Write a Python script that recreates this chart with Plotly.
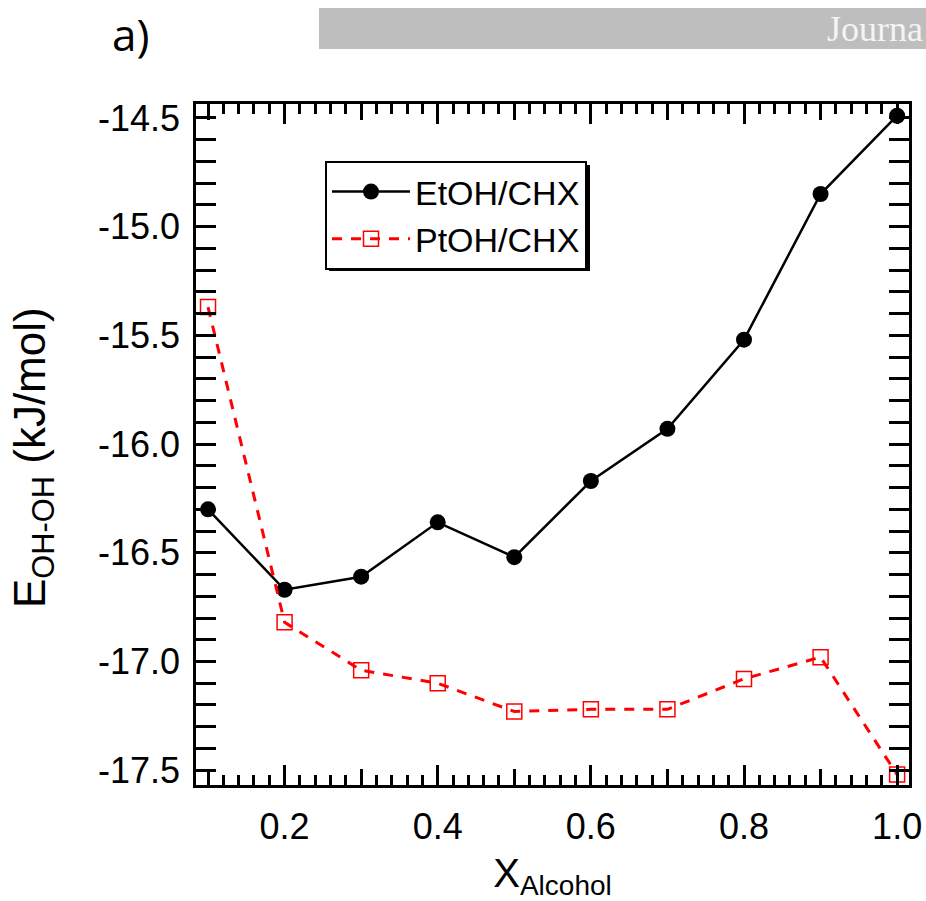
import plotly.graph_objects as go

# ---- data ----
x_alcohol = [0.1, 0.2, 0.3, 0.4, 0.5, 0.6, 0.7, 0.8, 0.9, 1.0]
etoh_chx = [-16.30, -16.67, -16.61, -16.36, -16.52, -16.17, -15.93, -15.52, -14.85, -14.49]
ptoh_chx = [-15.37, -16.82, -17.04, -17.10, -17.23, -17.22, -17.22, -17.08, -16.98, -17.52]
series_names = ["EtOH/CHX", "PtOH/CHX"]

x_tickvals = [0.2, 0.4, 0.6, 0.8, 1.0]
x_ticktext = ["0.2", "0.4", "0.6", "0.8", "1.0"]
x_midticks = [0.1, 0.3, 0.5, 0.7, 0.9]
y_tickvals = [-14.5, -15.0, -15.5, -16.0, -16.5, -17.0, -17.5]
y_ticktext = ["-14.5", "-15.0", "-15.5", "-16.0", "-16.5", "-17.0", "-17.5"]

# ---- layout geometry (pixels) ----
W, H = 926, 901
ML, MR, MT, MB = 196, 17, 104, 116
PW, PH = W - ML - MR, H - MT - MB


def px2x(px):
    return (px - ML) / PW


def px2y(py):
    return (H - MB - py) / PH


FONT = "Liberation Sans, Arial, Helvetica, sans-serif"

fig = go.Figure()
fig.add_trace(go.Scatter(
    x=x_alcohol, y=etoh_chx, name=series_names[0], mode="lines+markers",
    line=dict(color="black", width=2.5),
    marker=dict(symbol="circle", size=16, color="black"),
))
fig.add_trace(go.Scatter(
    x=x_alcohol, y=ptoh_chx, name=series_names[1], mode="lines+markers",
    line=dict(color="#ff0000", width=3, dash="10px,9px"),
    marker=dict(symbol="square-open", size=15, color="#ff0000", line=dict(width=1.5, color="#ff0000")),
))
# invisible trace to host medium ticks on secondary x axis
fig.add_trace(go.Scatter(x=[x_alcohol[0]], y=[etoh_chx[0]], xaxis="x2", mode="markers",
                         marker=dict(opacity=0), showlegend=False, hoverinfo="skip"))

xr = [0.0843, 1.0155]
yr = [-17.568, -14.436]

axis_common = dict(
    ticks="inside", showline=True, linecolor="black", linewidth=2.5,
    tickcolor="black", tickwidth=2.5, mirror="allticks", showgrid=False, zeroline=False,
    tickfont=dict(family=FONT, size=36, color="black"), automargin=False,
)

fig.update_layout(
    width=W, height=H,
    margin=dict(l=ML, r=MR, t=MT, b=MB, autoexpand=False),
    paper_bgcolor="white", plot_bgcolor="white",
    xaxis=dict(
        range=xr, tickvals=x_tickvals, ticktext=x_ticktext, ticklen=20,
        ticklabelstandoff=8,
        minor=dict(dtick=0.02, tick0=0, ticklen=10, tickwidth=2.5, tickcolor="black", ticks="inside"),
        title=dict(text="X<sub>Alcohol</sub>", font=dict(family=FONT, size=40, color="black"), standoff=16),
        **axis_common,
    ),
    xaxis2=dict(
        range=xr, overlaying="x", anchor="y", side="bottom", tickvals=x_midticks,
        showticklabels=False, ticks="inside", ticklen=16, tickwidth=2.5, tickcolor="black",
        mirror="allticks", showline=False, showgrid=False, zeroline=False, automargin=False,
    ),
    yaxis=dict(
        range=yr, tickvals=y_tickvals, ticktext=y_ticktext, ticklen=20,
        ticklabelstandoff=6,
        minor=dict(dtick=0.1, tick0=-14.5, ticklen=11, tickwidth=2.5, tickcolor="black", ticks="inside"),
        **axis_common,
    ),
    legend=dict(
        x=px2x(325), y=px2y(161), xanchor="left", yanchor="top",
        bgcolor="white", bordercolor="black", borderwidth=2,
        font=dict(family=FONT, size=34, color="black"),
        tracegroupgap=0, itemwidth=78,
    ),
    showlegend=True,
)

# y-axis title placed as rotated annotation
fig.add_annotation(text="E<sub>OH-OH</sub> (kJ/mol)", xref="paper", yref="paper",
                   x=px2x(33), y=px2y(458), xanchor="center", yanchor="middle",
                   textangle=-90, showarrow=False,
                   font=dict(family=FONT, size=44, color="black"))

# legend shadow
fig.add_shape(type="rect", xref="paper", yref="paper",
              x0=px2x(329), x1=px2x(590), y0=px2y(271), y1=px2y(165),
              fillcolor="black", line=dict(width=0), layer="above")

# header: grey bar, "a)" label, journal text
fig.add_shape(type="rect", xref="paper", yref="paper",
              x0=px2x(319), x1=px2x(940), y0=px2y(49), y1=px2y(8),
              fillcolor="#bebebe", line=dict(width=0), layer="above")
fig.add_annotation(text="a)", xref="paper", yref="paper", x=px2x(110), y=px2y(34),
                   xanchor="left", yanchor="middle", showarrow=False,
                   font=dict(family="Open Sans, sans-serif", size=44, color="black"))
fig.add_annotation(text="Journa", xref="paper", yref="paper", x=px2x(925), y=px2y(29),
                   xanchor="right", yanchor="middle", showarrow=False,
                   font=dict(family="Liberation Serif, Times New Roman, serif", size=36, color="#f4f4f4"))

fig.write_html("out.html")
